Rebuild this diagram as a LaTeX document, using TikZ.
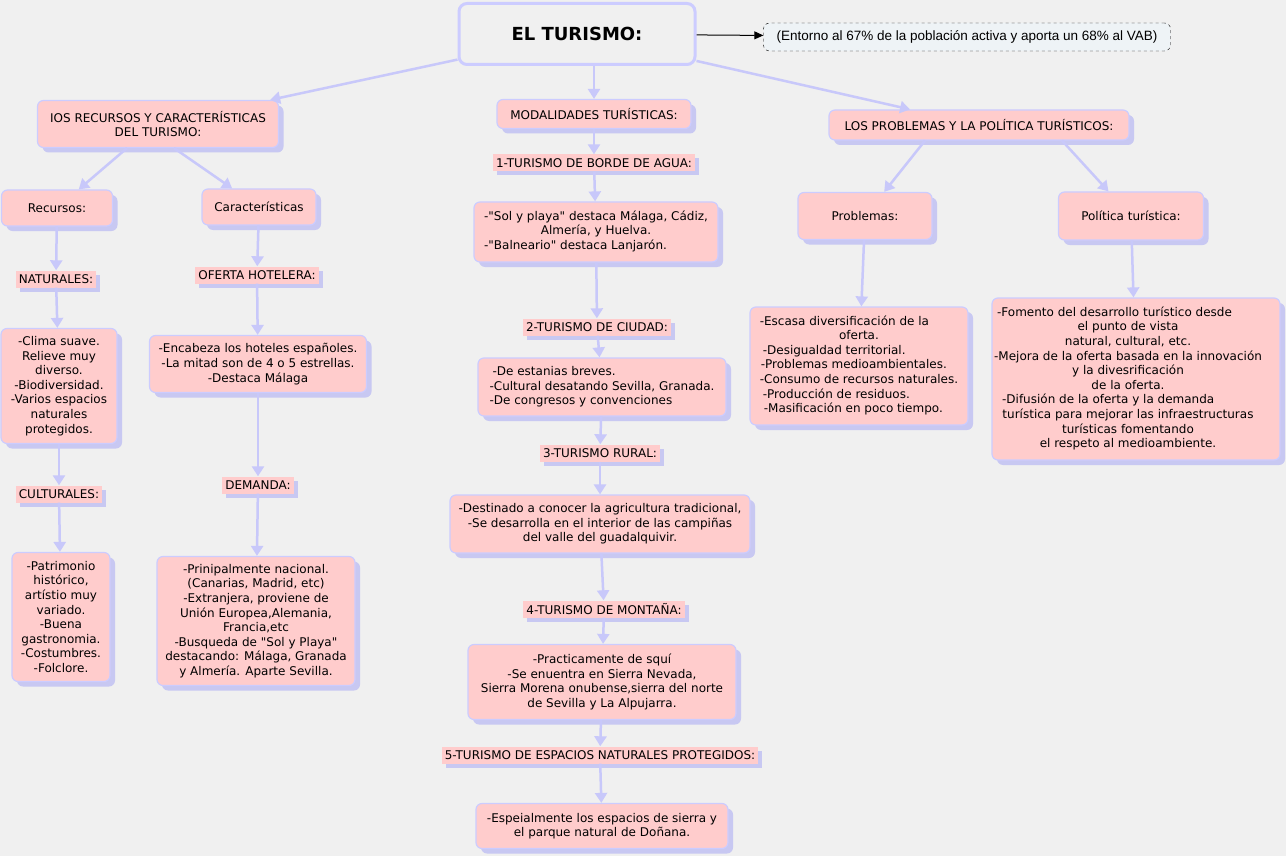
\documentclass[tikz,border=0pt]{standalone}
\usepackage{fontspec}
\setmainfont{DejaVu Sans}[Ligatures=TeXOff]
\newfontfamily\notefont{Liberation Sans}
\usepackage{tikz}
\usetikzlibrary{arrows.meta, positioning, shadows}
\definecolor{bggray}{HTML}{F0F0F0}
\definecolor{pinkfill}{HTML}{FFCCCC}
\definecolor{lavborder}{HTML}{CCCCFF}
\definecolor{shadowlav}{HTML}{C8C8F2}
\definecolor{edgelav}{HTML}{C8C8FA}
\definecolor{notefill}{HTML}{EEF3F6}
\newcommand{\lline}[1]{\multicolumn{1}{@{}l@{}}{#1}}

\begin{document}
\begin{tikzpicture}[x=1pt, y=-1pt,
      font=\fontsize{12}{14.6}\selectfont,
      concept/.style={draw=lavborder, line width=1.2pt, fill=pinkfill,
                      rounded corners=6pt, align=center, inner sep=2pt,
                      drop shadow={shadow xshift=5pt, shadow yshift=-5pt,
                                   fill=shadowlav, opacity=1}},
      tagbox/.style={fill=pinkfill, inner xsep=3pt, inner ysep=0pt,
                     minimum height=17pt,
                     drop shadow={shadow xshift=4pt, shadow yshift=-4pt,
                                  fill=shadowlav, opacity=1}},
      mainbox/.style={draw=lavborder, line width=3pt, fill=bggray,
                      rounded corners=8pt, minimum width=236pt,
                      minimum height=61pt,
                      font=\fontsize{18}{21}\selectfont\bfseries},
      notebox/.style={draw, dashed, fill=notefill, rounded corners=6pt,
                      minimum width=407pt, minimum height=28pt,
                      font=\notefont\fontsize{13.5}{16}\selectfont},
      arr/.style={-{Triangle[length=10pt, width=12pt]}, line width=2.5pt, edgelav}
    ]
      \fill[bggray] (0,0) rectangle (1286,856);
      \useasboundingbox (0,0) rectangle (1286,856);

      % Top
      \node[mainbox] (turismo) at (577,34) {EL TURISMO:};
      \node[notebox] (entorno) at (967,37)
        {(Entorno al 67\% de la población activa y aporta un 68\% al VAB)};
      \draw[-{Triangle[length=9pt, width=8pt]}, line width=1pt] (turismo) -- (entorno);

      \node[concept, minimum width=241pt, minimum height=47pt] (recyc) at (158,124)
        {IOS RECURSOS Y CARACTERÍSTICAS\\DEL TURISMO:};
      \node[concept, minimum width=194pt, minimum height=29pt] (modal) at (594,114)
        {MODALIDADES TURÍSTICAS:};
      \node[concept, minimum width=300pt, minimum height=30pt] (probpol) at (979,125)
        {LOS PROBLEMAS Y LA POLÍTICA TURÍSTICOS:};
      \draw[arr] (turismo) -- (recyc);
      \draw[arr] (turismo.south -| modal) -- (modal);
      \draw[arr] (turismo) -- (probpol);

      % Recursos y caracteristicas
      \node[concept, minimum width=111pt, minimum height=36pt] (recur) at (57,208) {Recursos:};
      \node[concept, minimum width=114pt, minimum height=36pt] (carac) at (259,207) {Características};
      \draw[arr] ([xshift=-31pt]recyc.south) -- (recur);
      \draw[arr] ([xshift=16pt]recyc.south) -- (carac);

      \node[tagbox] (natur) at (56,279) {NATURALES:};
      \node[concept, minimum width=116pt, minimum height=115pt] (naturlist) at (59,386)
        {-Clima suave.\\Relieve muy\\diverso.\\-Biodiversidad.\\-Varios espacios\\naturales\\protegidos.};
      \node[tagbox] (cultur) at (59,494) {CULTURALES:};
      \node[concept, minimum width=98pt, minimum height=129pt] (culturlist) at (61,617)
        {-Patrimonio\\histórico,\\artístio muy\\variado.\\-Buena\\gastronomia.\\-Costumbres.\\-Folclore.};
      \draw[arr] (recur) -- (natur);
      \draw[arr] (natur) -- (naturlist);
      \draw[arr] (naturlist) -- (cultur);
      \draw[arr] (cultur) -- (culturlist);

      \node[tagbox] (ofert) at (257,275) {OFERTA HOTELERA:};
      \node[concept, minimum width=217pt, minimum height=57pt] (ofertlist) at (258,364)
        {-Encabeza los hoteles españoles.\\-La mitad son de 4 o 5 estrellas.\\-Destaca Málaga};
      \node[tagbox] (deman) at (258,485) {DEMANDA:};
      \node[concept, minimum width=198pt, minimum height=129pt] (demanlist) at (256,621)
        {-Prinipalmente nacional.\\(Canarias, Madrid, etc)\\-Extranjera, proviene de\\Unión Europea,Alemania,\\Francia,etc\\-Busqueda de "Sol y Playa"\\destacando: Málaga, Granada\\y Almería. Aparte Sevilla.};
      \draw[arr] (carac) -- (ofert);
      \draw[arr] (ofert) -- (ofertlist);
      \draw[arr] (ofertlist) -- (deman);
      \draw[arr] (deman) -- (demanlist);

      % Modalidades
      \node[tagbox] (agua) at (594,163) {1-TURISMO DE BORDE DE AGUA:};
      \node[concept, minimum width=244pt, minimum height=60pt] (agualist) at (596,232)
        {\begin{tabular}{@{}c@{}}\lline{-"Sol y playa" destaca Málaga, Cádiz,}\\Almería, y Huelva.\\\lline{-"Balneario" destaca Lanjarón.}\end{tabular}};
      \node[tagbox] (ciudad) at (597,327) {2-TURISMO DE CIUDAD:};
      \node[concept, minimum width=248pt, minimum height=58pt, align=left] (ciudadlist) at (602,387)
        {\hspace{3pt}-De estanias breves.\\-Cultural desatando Sevilla, Granada.\\-De congresos y convenciones};
      \node[tagbox] (rural) at (600,453) {3-TURISMO RURAL:};
      \node[concept, minimum width=300pt, minimum height=58pt] (rurallist) at (600,524)
        {-Destinado a conocer la agricultura tradicional,\\-Se desarrolla en el interior de las campiñas\\del valle del guadalquivir.};
      \node[tagbox] (montana) at (604,609) {4-TURISMO DE MONTAÑA:};
      \node[concept, minimum width=268pt, minimum height=75pt] (montanalist) at (602,682)
        {-Practicamente de squí\\-Se enuentra en Sierra Nevada,\\Sierra Morena onubense,sierra del norte\\de Sevilla y La Alpujarra.};
      \node[tagbox] (espacios) at (600,755) {5-TURISMO DE ESPACIOS NATURALES PROTEGIDOS:};
      \node[concept, minimum width=252pt, minimum height=45pt] (espacioslist) at (602,826)
        {-Espeialmente los espacios de sierra y\\el parque natural de Doñana.};
      \draw[arr] (modal) -- (agua);
      \draw[arr] (agua) -- (agualist);
      \draw[arr] (agualist) -- (ciudad);
      \draw[arr] (ciudad) -- (ciudadlist);
      \draw[arr] (ciudadlist) -- (rural);
      \draw[arr] (rural) -- (rurallist);
      \draw[arr] (rurallist) -- (montana);
      \draw[arr] (montana) -- (montanalist);
      \draw[arr] (montanalist) -- (espacios);
      \draw[arr] (espacios) -- (espacioslist);

      % Problemas y politica
      \node[concept, minimum width=134pt, minimum height=47pt] (problemas) at (865,216) {Problemas:};
      \node[concept, minimum width=145pt, minimum height=48pt] (politica) at (1131,216) {Política turística:};
      \draw[arr] ([xshift=-54pt]probpol.south) -- (problemas);
      \draw[arr] ([xshift=83pt]probpol.south) -- (politica);

      \node[concept, minimum width=218pt, minimum height=118pt] (problist) at (859,366)
        {\begin{tabular}{@{}l@{}}-Escasa diversificación de la\\\multicolumn{1}{@{}c@{}}{oferta.}\\\hspace{3pt}-Desigualdad territorial.\\\hspace{1pt}-Problemas medioambientales.\\-Consumo de recursos naturales.\\\hspace{3pt}-Producción de residuos.\\\hspace{4pt}-Masificación en poco tiempo.\end{tabular}};
      \node[concept, minimum width=288pt, minimum height=162pt] (polilist) at (1136,379)
        {\begin{tabular}{@{}c@{}}\lline{\hspace{3pt}-Fomento del desarrollo turístico desde}\\el punto de vista\\natural, cultural, etc.\\-Mejora de la oferta basada en la innovación\\y la divesrificación\\de la oferta.\\\lline{\hspace{8pt}-Difusión de la oferta y la demanda}\\turística para mejorar las infraestructuras\\turísticas fomentando\\el respeto al medioambiente.\end{tabular}\hspace*{16pt}};
      \draw[arr] (problemas) -- (problist);
      \draw[arr] (politica) -- (polilist);
    \end{tikzpicture}
\end{document}
